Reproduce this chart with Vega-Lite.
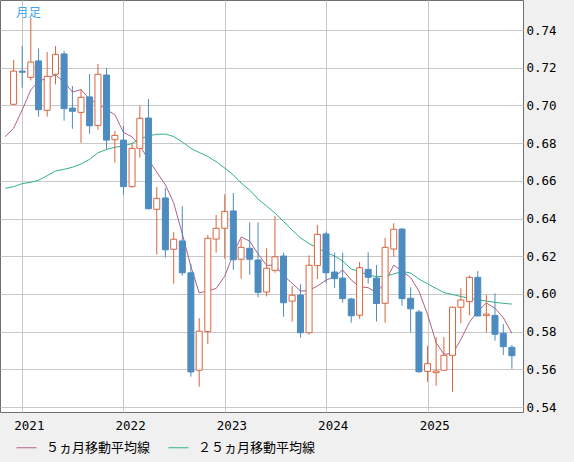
{
  "$schema": "https://vega.github.io/schema/vega-lite/v6.json",
  "width": 523,
  "height": 412,
  "autosize": "none",
  "padding": {"left": 0, "top": 0, "right": 51, "bottom": 50},
  "background": "#f0f0f0",
  "title": {
    "text": "月足",
    "anchor": "start",
    "orient": "top",
    "offset": -19,
    "dx": 16,
    "color": "#40a8f0",
    "font": "Noto Sans CJK JP",
    "fontSize": 12.5,
    "fontWeight": "normal"
  },
  "config": {
    "view": {"fill": "white", "stroke": "#6f6f6f"},
    "axis": {
      "grid": true,
      "gridColor": "#c8c8c8",
      "ticks": false,
      "domain": false,
      "title": null,
      "labelFont": "DejaVu Sans Mono",
      "labelFontSize": 12.5,
      "labelColor": "#000000"
    }
  },
  "datasets": {
    "candles": [
      {"date": "2020-12-01", "open": 0.7006, "high": 0.7241, "low": 0.7001, "close": 0.7182},
      {"date": "2021-01-01", "open": 0.7182, "high": 0.7315, "low": 0.7094, "close": 0.7176},
      {"date": "2021-02-01", "open": 0.7149, "high": 0.7464, "low": 0.7133, "close": 0.7230},
      {"date": "2021-03-01", "open": 0.7236, "high": 0.7303, "low": 0.6940, "close": 0.6977},
      {"date": "2021-04-01", "open": 0.6974, "high": 0.7283, "low": 0.6940, "close": 0.7154},
      {"date": "2021-05-01", "open": 0.7165, "high": 0.7315, "low": 0.7112, "close": 0.7271},
      {"date": "2021-06-01", "open": 0.7273, "high": 0.7289, "low": 0.6919, "close": 0.6983},
      {"date": "2021-07-01", "open": 0.6986, "high": 0.7103, "low": 0.6876, "close": 0.6969},
      {"date": "2021-08-01", "open": 0.6963, "high": 0.7085, "low": 0.6802, "close": 0.7043},
      {"date": "2021-09-01", "open": 0.7045, "high": 0.7167, "low": 0.6850, "close": 0.6892},
      {"date": "2021-10-01", "open": 0.6894, "high": 0.7220, "low": 0.6870, "close": 0.7165},
      {"date": "2021-11-01", "open": 0.7161, "high": 0.7198, "low": 0.6767, "close": 0.6816},
      {"date": "2021-12-01", "open": 0.6818, "high": 0.6864, "low": 0.6696, "close": 0.6841},
      {"date": "2022-01-01", "open": 0.6816, "high": 0.6891, "low": 0.6526, "close": 0.6569},
      {"date": "2022-02-01", "open": 0.6569, "high": 0.6802, "low": 0.6563, "close": 0.6772},
      {"date": "2022-03-01", "open": 0.6772, "high": 0.6997, "low": 0.6723, "close": 0.6932},
      {"date": "2022-04-01", "open": 0.6933, "high": 0.7034, "low": 0.6447, "close": 0.6452},
      {"date": "2022-05-01", "open": 0.6449, "high": 0.6567, "low": 0.6208, "close": 0.6507},
      {"date": "2022-06-01", "open": 0.6509, "high": 0.6562, "low": 0.6192, "close": 0.6234},
      {"date": "2022-07-01", "open": 0.6237, "high": 0.6328, "low": 0.6054, "close": 0.6290},
      {"date": "2022-08-01", "open": 0.6281, "high": 0.6466, "low": 0.6097, "close": 0.6112},
      {"date": "2022-09-01", "open": 0.6112, "high": 0.6159, "low": 0.5561, "close": 0.5586},
      {"date": "2022-10-01", "open": 0.5595, "high": 0.5872, "low": 0.5508, "close": 0.5802},
      {"date": "2022-11-01", "open": 0.5800, "high": 0.6312, "low": 0.5734, "close": 0.6295},
      {"date": "2022-12-01", "open": 0.6291, "high": 0.6419, "low": 0.6219, "close": 0.6348},
      {"date": "2023-01-01", "open": 0.6348, "high": 0.6528, "low": 0.6187, "close": 0.6438},
      {"date": "2023-02-01", "open": 0.6440, "high": 0.6535, "low": 0.6127, "close": 0.6181},
      {"date": "2023-03-01", "open": 0.6184, "high": 0.6291, "low": 0.6081, "close": 0.6247},
      {"date": "2023-04-01", "open": 0.6242, "high": 0.6380, "low": 0.6102, "close": 0.6184},
      {"date": "2023-05-01", "open": 0.6180, "high": 0.6380, "low": 0.5982, "close": 0.6008},
      {"date": "2023-06-01", "open": 0.6010, "high": 0.6242, "low": 0.5987, "close": 0.6136},
      {"date": "2023-07-01", "open": 0.6125, "high": 0.6413, "low": 0.6112, "close": 0.6197},
      {"date": "2023-08-01", "open": 0.6201, "high": 0.6219, "low": 0.5879, "close": 0.5953},
      {"date": "2023-09-01", "open": 0.5962, "high": 0.6042, "low": 0.5853, "close": 0.5993},
      {"date": "2023-10-01", "open": 0.5994, "high": 0.6051, "low": 0.5768, "close": 0.5794},
      {"date": "2023-11-01", "open": 0.5794, "high": 0.6205, "low": 0.5784, "close": 0.6152},
      {"date": "2023-12-01", "open": 0.6150, "high": 0.6366, "low": 0.6079, "close": 0.6316},
      {"date": "2024-01-01", "open": 0.6318, "high": 0.6330, "low": 0.6059, "close": 0.6112},
      {"date": "2024-02-01", "open": 0.6116, "high": 0.6219, "low": 0.6031, "close": 0.6081},
      {"date": "2024-03-01", "open": 0.6084, "high": 0.6219, "low": 0.5953, "close": 0.5975},
      {"date": "2024-04-01", "open": 0.5973, "high": 0.5980, "low": 0.5847, "close": 0.5884},
      {"date": "2024-05-01", "open": 0.5887, "high": 0.6169, "low": 0.5868, "close": 0.6139},
      {"date": "2024-06-01", "open": 0.6130, "high": 0.6221, "low": 0.6054, "close": 0.6088},
      {"date": "2024-07-01", "open": 0.6084, "high": 0.6153, "low": 0.5854, "close": 0.5949},
      {"date": "2024-08-01", "open": 0.5950, "high": 0.6297, "low": 0.5847, "close": 0.6247},
      {"date": "2024-09-01", "open": 0.6238, "high": 0.6375, "low": 0.6197, "close": 0.6343},
      {"date": "2024-10-01", "open": 0.6344, "high": 0.6350, "low": 0.5937, "close": 0.5975},
      {"date": "2024-11-01", "open": 0.5977, "high": 0.6035, "low": 0.5796, "close": 0.5921},
      {"date": "2024-12-01", "open": 0.5904, "high": 0.5915, "low": 0.5582, "close": 0.5587},
      {"date": "2025-01-01", "open": 0.5589, "high": 0.5724, "low": 0.5534, "close": 0.5630},
      {"date": "2025-02-01", "open": 0.5582, "high": 0.5771, "low": 0.5513, "close": 0.5591},
      {"date": "2025-03-01", "open": 0.5595, "high": 0.5771, "low": 0.5593, "close": 0.5674},
      {"date": "2025-04-01", "open": 0.5674, "high": 0.5932, "low": 0.5481, "close": 0.5929},
      {"date": "2025-05-01", "open": 0.5929, "high": 0.6030, "low": 0.5844, "close": 0.5968},
      {"date": "2025-06-01", "open": 0.5959, "high": 0.6097, "low": 0.5886, "close": 0.6088},
      {"date": "2025-07-01", "open": 0.6088, "high": 0.6121, "low": 0.5883, "close": 0.5883},
      {"date": "2025-08-01", "open": 0.5886, "high": 0.5994, "low": 0.5796, "close": 0.5893},
      {"date": "2025-09-01", "open": 0.5886, "high": 0.6003, "low": 0.5752, "close": 0.5786},
      {"date": "2025-10-01", "open": 0.5791, "high": 0.5840, "low": 0.5676, "close": 0.5720},
      {"date": "2025-11-01", "open": 0.5717, "high": 0.5729, "low": 0.5603, "close": 0.5672}
    ],
    "ma": [
      {"date": "2020-11-01", "ma5": 0.6834, "ma25": 0.6560},
      {"date": "2020-12-01", "ma5": 0.6879, "ma25": 0.6569},
      {"date": "2021-01-01", "ma5": 0.6976, "ma25": 0.6585},
      {"date": "2021-02-01", "ma5": 0.7082, "ma25": 0.6592},
      {"date": "2021-03-01", "ma5": 0.7129, "ma25": 0.6603},
      {"date": "2021-04-01", "ma5": 0.7144, "ma25": 0.6627},
      {"date": "2021-05-01", "ma5": 0.7162, "ma25": 0.6652},
      {"date": "2021-06-01", "ma5": 0.7123, "ma25": 0.6661},
      {"date": "2021-07-01", "ma5": 0.7071, "ma25": 0.6672},
      {"date": "2021-08-01", "ma5": 0.7084, "ma25": 0.6689},
      {"date": "2021-09-01", "ma5": 0.7032, "ma25": 0.6714},
      {"date": "2021-10-01", "ma5": 0.7010, "ma25": 0.6749},
      {"date": "2021-11-01", "ma5": 0.6977, "ma25": 0.6766},
      {"date": "2021-12-01", "ma5": 0.6951, "ma25": 0.6778},
      {"date": "2022-01-01", "ma5": 0.6857, "ma25": 0.6785},
      {"date": "2022-02-01", "ma5": 0.6833, "ma25": 0.6798},
      {"date": "2022-03-01", "ma5": 0.6786, "ma25": 0.6822},
      {"date": "2022-04-01", "ma5": 0.6713, "ma25": 0.6838},
      {"date": "2022-05-01", "ma5": 0.6646, "ma25": 0.6847},
      {"date": "2022-06-01", "ma5": 0.6579, "ma25": 0.6848},
      {"date": "2022-07-01", "ma5": 0.6483, "ma25": 0.6835},
      {"date": "2022-08-01", "ma5": 0.6319, "ma25": 0.6806},
      {"date": "2022-09-01", "ma5": 0.6146, "ma25": 0.6772},
      {"date": "2022-10-01", "ma5": 0.6005, "ma25": 0.6750},
      {"date": "2022-11-01", "ma5": 0.6017, "ma25": 0.6729},
      {"date": "2022-12-01", "ma5": 0.6029, "ma25": 0.6702},
      {"date": "2023-01-01", "ma5": 0.6094, "ma25": 0.6668},
      {"date": "2023-02-01", "ma5": 0.6213, "ma25": 0.6631},
      {"date": "2023-03-01", "ma5": 0.6302, "ma25": 0.6588},
      {"date": "2023-04-01", "ma5": 0.6280, "ma25": 0.6551},
      {"date": "2023-05-01", "ma5": 0.6212, "ma25": 0.6503},
      {"date": "2023-06-01", "ma5": 0.6151, "ma25": 0.6466},
      {"date": "2023-07-01", "ma5": 0.6154, "ma25": 0.6429},
      {"date": "2023-08-01", "ma5": 0.6096, "ma25": 0.6384},
      {"date": "2023-09-01", "ma5": 0.6057, "ma25": 0.6339},
      {"date": "2023-10-01", "ma5": 0.6015, "ma25": 0.6297},
      {"date": "2023-11-01", "ma5": 0.6018, "ma25": 0.6267},
      {"date": "2023-12-01", "ma5": 0.6042, "ma25": 0.6244},
      {"date": "2024-01-01", "ma5": 0.6073, "ma25": 0.6220},
      {"date": "2024-02-01", "ma5": 0.6091, "ma25": 0.6201},
      {"date": "2024-03-01", "ma5": 0.6127, "ma25": 0.6175},
      {"date": "2024-04-01", "ma5": 0.6074, "ma25": 0.6132},
      {"date": "2024-05-01", "ma5": 0.6038, "ma25": 0.6119},
      {"date": "2024-06-01", "ma5": 0.6033, "ma25": 0.6100},
      {"date": "2024-07-01", "ma5": 0.6007, "ma25": 0.6092},
      {"date": "2024-08-01", "ma5": 0.6061, "ma25": 0.6092},
      {"date": "2024-09-01", "ma5": 0.6153, "ma25": 0.6106},
      {"date": "2024-10-01", "ma5": 0.6120, "ma25": 0.6119},
      {"date": "2024-11-01", "ma5": 0.6087, "ma25": 0.6111},
      {"date": "2024-12-01", "ma5": 0.6015, "ma25": 0.6079},
      {"date": "2025-01-01", "ma5": 0.5891, "ma25": 0.6053},
      {"date": "2025-02-01", "ma5": 0.5741, "ma25": 0.6029},
      {"date": "2025-03-01", "ma5": 0.5681, "ma25": 0.6007},
      {"date": "2025-04-01", "ma5": 0.5682, "ma25": 0.5997},
      {"date": "2025-05-01", "ma5": 0.5758, "ma25": 0.5986},
      {"date": "2025-06-01", "ma5": 0.5850, "ma25": 0.5978},
      {"date": "2025-07-01", "ma5": 0.5908, "ma25": 0.5968},
      {"date": "2025-08-01", "ma5": 0.5952, "ma25": 0.5962},
      {"date": "2025-09-01", "ma5": 0.5924, "ma25": 0.5955},
      {"date": "2025-10-01", "ma5": 0.5874, "ma25": 0.5950},
      {"date": "2025-11-01", "ma5": 0.5791, "ma25": 0.5946}
    ]
  },
  "encoding": {
    "x": {
      "field": "date",
      "type": "temporal",
      "scale": {
        "type": "utc",
        "domain": [
          {"year": 2020, "month": 10, "date": 31, "utc": true},
          {"year": 2025, "month": 11, "date": 23, "utc": true}
        ]
      },
      "axis": {
        "values": [
          {"year": 2021, "month": 1, "date": 1, "utc": true},
          {"year": 2022, "month": 1, "date": 1, "utc": true},
          {"year": 2023, "month": 1, "date": 1, "utc": true},
          {"year": 2024, "month": 1, "date": 1, "utc": true},
          {"year": 2025, "month": 1, "date": 1, "utc": true}
        ],
        "format": "%Y",
        "labelAlign": "left",
        "labelOffset": -8.4,
        "labelPadding": 7
      }
    }
  },
  "layer": [
    {
      "data": {"name": "ma"},
      "transform": [{"fold": ["ma5", "ma25"], "as": ["series", "value"]}],
      "mark": {"type": "line", "strokeWidth": 1, "clip": true},
      "encoding": {
        "y": {
          "field": "value",
          "type": "quantitative",
          "scale": {"domain": [0.53735, 0.75592], "zero": false, "nice": false},
          "axis": {
            "orient": "right",
            "values": [0.54, 0.56, 0.58, 0.6, 0.62, 0.64, 0.66, 0.68, 0.7, 0.72, 0.74],
            "format": ".2f",
            "labelPadding": 3
          }
        },
        "color": {
          "field": "series",
          "type": "nominal",
          "scale": {"domain": ["ma5", "ma25"], "range": ["#b0608c", "#2fb57e"]},
          "legend": {
            "orient": "none",
            "legendX": 16,
            "legendY": 437,
            "direction": "horizontal",
            "title": null,
            "symbolType": "stroke",
            "symbolSize": 400,
            "symbolStrokeWidth": 1,
            "labelFont": "Noto Sans CJK JP",
            "labelFontSize": 13,
            "labelColor": "#000000",
            "labelOffset": 9,
            "columnPadding": 15,
            "labelExpr": "datum.label == 'ma5' ? '５ヵ月移動平均線' : '２５ヵ月移動平均線'"
          }
        }
      }
    },
    {
      "data": {"name": "candles"},
      "mark": {"type": "rule", "strokeWidth": 1, "clip": true},
      "encoding": {
        "y": {"field": "low", "type": "quantitative"},
        "y2": {"field": "high"},
        "color": {
          "condition": {"test": "datum.close >= datum.open", "value": "#d9653f"},
          "value": "#4d8cc0"
        }
      }
    },
    {
      "data": {"name": "candles"},
      "mark": {"type": "bar", "size": 6, "strokeWidth": 1, "clip": true},
      "encoding": {
        "y": {"field": "open", "type": "quantitative"},
        "y2": {"field": "close"},
        "fill": {
          "condition": {"test": "datum.close >= datum.open", "value": "#ffffff"},
          "value": "#4d8cc0"
        },
        "stroke": {
          "condition": {"test": "datum.close >= datum.open", "value": "#d9653f"},
          "value": "#4d8cc0"
        }
      }
    }
  ]
}
